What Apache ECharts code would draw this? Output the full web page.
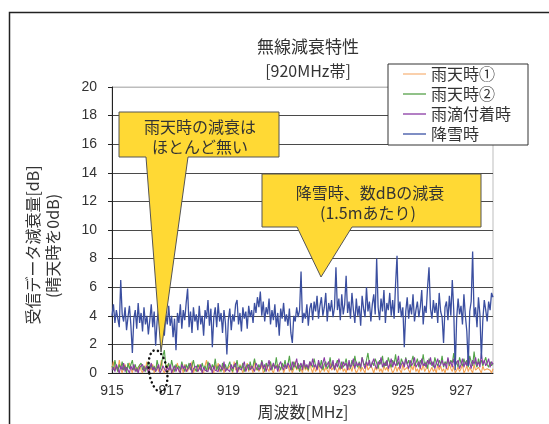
<!DOCTYPE html>
<html><head><meta charset="utf-8">
<script src="https://cdn.jsdelivr.net/npm/echarts@6/dist/echarts.min.js"></script>
<style>html,body{margin:0;padding:0;background:#fff}#c{width:549px;height:424px}</style>
</head><body><div id="c"></div>
<script>
const seriesNames = ['雨天時①','雨天時②','雨滴付着時','降雪時'];
const freqStart = 915, freqStep = 0.05, nPoints = 263;
const freqs = Array.from({length: nPoints}, (_, i) => +(freqStart + i * freqStep).toFixed(2));

const rain1 = [
0.3,0.8,0.2,0.5,0.1,0.9,0.3,0.0,0.4,0.6,0.2,0.1,0.7,0.3,0.0,0.5,0.2,0.4,0.1,0.6,
0.2,0.0,0.5,0.3,0.8,0.1,0.4,0.2,0.6,0.0,0.3,0.5,0.1,0.4,0.9,0.2,0.0,0.3,0.6,0.1,
0.4,0.2,0.0,0.5,0.3,0.7,0.1,0.2,0.4,0.0,0.6,0.3,0.1,0.5,0.2,0.8,0.0,0.3,0.4,0.1,
0.6,0.2,0.3,0.0,0.5,0.9,0.2,0.1,0.4,0.3,0.0,0.6,0.2,0.7,0.1,0.3,0.5,0.0,0.4,0.2,
0.1,0.5,0.3,0.0,0.8,0.2,0.4,0.1,0.6,0.3,0.0,0.4,0.2,0.7,0.1,0.5,0.3,0.0,0.9,0.2,
0.4,0.1,0.3,0.6,0.0,0.2,0.5,0.3,0.1,0.7,0.2,0.0,0.4,0.3,0.6,0.1,0.2,0.5,0.0,0.3,
0.2,0.6,0.1,0.4,0.0,0.3,0.8,0.2,0.5,0.1,0.3,0.0,0.6,0.2,0.4,0.1,0.7,0.3,0.0,0.5,
0.1,0.3,0.5,0.0,0.2,0.6,0.1,0.4,0.3,0.0,0.7,0.2,0.1,0.5,0.3,0.0,0.4,0.2,0.6,0.1,
0.3,0.0,0.5,0.2,0.4,0.1,0.6,0.3,0.0,0.2,0.5,0.1,0.4,0.3,0.0,0.7,0.2,0.1,0.5,0.3,
0.0,0.4,0.2,0.6,0.1,0.3,0.0,0.5,0.2,0.4,0.1,0.7,0.3,0.0,0.2,0.5,0.1,0.4,0.3,0.0,
0.6,0.2,0.1,0.4,0.3,0.0,0.5,0.2,0.7,0.1,0.3,0.0,0.4,0.2,0.6,0.1,0.3,0.5,0.0,0.2,
0.4,0.1,0.3,0.0,0.6,0.2,0.5,0.1,0.3,0.0,0.4,0.2,0.7,0.3,0.1,0.5,0.0,0.2,0.4,0.1,
0.3,0.6,0.0,0.2,0.5,0.1,0.4,0.3,0.0,0.6,0.2,0.1,0.4,0.3,0.0,0.5,0.2,0.1,0.3,0.4,
0.2,0.0,0.3];

const rain2 = [
0.5,0.2,0.9,0.4,0.1,0.6,0.3,0.8,0.2,0.5,0.0,0.7,0.3,0.4,0.9,0.2,0.6,0.1,0.4,0.3,
0.7,0.2,0.5,0.1,0.4,0.8,0.3,0.6,0.2,0.5,0.1,0.9,0.4,0.2,0.6,1.2,1.6,0.5,0.3,0.7,
0.2,0.9,0.4,0.1,0.6,0.3,0.5,0.2,0.8,0.4,0.1,0.6,0.3,0.7,0.2,0.5,0.9,0.3,0.1,0.6,
0.4,0.2,0.7,0.3,0.5,0.1,0.8,0.4,0.2,0.6,0.3,1.0,0.2,0.5,0.4,0.1,0.7,0.3,0.6,0.2,
0.5,0.8,0.3,0.1,0.6,0.4,0.9,0.2,0.5,0.3,0.7,0.1,0.4,0.6,0.2,0.8,0.3,0.5,1.0,0.4,
0.2,0.6,0.3,0.9,0.5,0.1,0.7,0.4,0.3,0.8,0.2,0.6,0.4,1.1,0.3,0.5,0.2,0.7,0.4,0.9,
0.3,0.6,1.2,0.4,0.2,0.8,0.5,0.3,0.7,0.1,0.6,0.4,0.9,0.3,0.5,0.2,0.8,0.6,0.4,1.0,
0.5,0.3,0.7,0.4,0.9,0.2,0.6,0.8,0.3,0.5,1.1,0.4,0.7,0.2,0.6,0.9,0.5,0.3,0.8,0.4,
0.6,1.0,0.4,0.7,0.3,0.9,0.5,1.2,0.6,0.4,0.8,0.3,1.1,0.7,0.5,0.9,1.4,0.6,0.4,0.8,
0.5,1.0,0.7,0.3,0.9,0.6,1.2,0.4,0.8,0.5,1.1,0.7,0.4,0.9,0.6,1.3,0.5,0.8,0.4,1.0,
0.7,0.5,1.1,0.6,0.9,0.4,0.8,1.2,0.5,0.7,1.0,0.4,0.9,0.6,1.3,0.5,0.8,0.3,1.0,0.6,
0.8,0.4,1.1,0.7,0.5,0.9,0.6,1.2,0.4,0.8,0.6,1.0,0.5,0.9,0.7,1.4,0.6,0.8,0.4,1.1,
0.7,0.5,1.0,0.6,0.9,0.4,1.2,0.8,0.5,1.5,0.7,0.4,1.0,0.6,0.9,0.5,0.8,1.1,0.6,0.4,
0.8,0.5,0.7];

const dropWet = [
0.2,0.4,0.1,0.6,0.3,0.0,0.5,0.2,0.7,0.1,0.4,0.3,0.0,0.5,0.2,0.6,0.1,0.3,0.0,0.4,
0.3,0.6,0.1,0.2,0.5,0.0,0.3,0.7,0.2,0.4,0.1,0.3,0.6,0.0,0.2,0.5,0.3,0.1,0.4,0.2,
0.6,0.0,0.3,0.5,0.1,0.4,0.2,0.0,0.6,0.3,0.5,0.1,0.2,0.4,0.7,0.0,0.3,0.2,0.5,0.1,
0.3,0.6,0.0,0.4,0.2,0.3,0.1,0.7,0.4,0.0,0.5,0.2,0.3,0.1,0.6,0.4,0.2,0.8,0.1,0.3,
0.4,0.1,0.6,0.3,0.2,0.7,0.0,0.4,0.5,0.2,0.3,0.8,0.1,0.4,0.6,0.2,0.5,0.3,0.1,0.7,
0.5,0.2,0.4,0.8,0.3,0.6,0.1,0.5,0.9,0.2,0.4,0.7,0.3,0.5,0.1,0.6,0.8,0.4,0.2,0.6,
0.3,0.7,0.5,0.2,0.8,0.4,0.6,1.0,0.3,0.5,0.7,0.2,0.9,0.4,0.6,0.3,0.8,0.5,1.0,0.4,
0.6,0.2,0.9,0.5,0.3,0.7,1.1,0.4,0.6,0.8,0.3,0.5,0.9,0.2,0.7,0.4,1.0,0.6,0.3,0.8,
0.5,0.7,0.2,0.9,0.4,0.6,1.0,0.3,0.8,0.5,0.7,0.4,1.1,0.6,0.3,0.8,0.5,0.9,0.4,0.7,
1.0,0.5,0.3,0.8,0.6,1.1,0.4,0.7,0.5,0.9,0.3,0.6,1.0,0.4,0.8,0.5,0.7,1.2,0.3,0.6,
0.8,0.4,1.0,0.6,0.3,0.9,0.5,0.7,1.1,0.4,0.6,0.8,0.3,1.0,0.5,0.7,0.4,0.9,0.6,1.1,
0.5,0.8,0.3,0.7,1.0,0.4,0.6,0.9,0.5,0.7,0.3,1.1,0.6,0.8,0.4,1.0,0.5,0.7,0.9,0.3,
0.6,1.0,0.4,0.8,0.5,1.2,0.7,0.3,0.9,0.6,1.1,0.5,0.8,0.4,1.4,0.6,0.9,0.5,0.7,1.0,
0.4,0.8,0.6];

const snow = [
4.0,4.8,3.5,4.4,3.8,3.2,6.5,4.1,3.6,4.6,3.0,3.9,4.7,3.3,1.4,3.8,4.4,3.1,4.9,3.5,
4.2,2.9,4.6,3.4,4.0,2.7,3.7,4.8,3.2,4.3,1.9,3.6,4.5,3.0,3.9,4.6,2.6,4.1,3.4,4.7,
3.3,4.0,2.5,3.8,1.6,4.2,3.5,4.8,3.1,4.4,3.7,4.9,5.9,3.2,4.3,2.8,4.6,3.6,4.1,3.0,
4.7,3.4,4.0,2.6,4.4,3.8,5.1,3.3,4.5,1.8,3.9,4.6,3.2,4.9,3.6,4.2,2.8,4.4,3.5,1.3,
3.7,4.5,3.0,4.1,3.6,4.8,5.1,3.4,4.2,2.9,4.6,3.8,4.3,3.1,4.7,3.9,4.4,3.5,4.9,4.2,
5.3,4.6,5.7,4.0,5.0,3.6,4.6,4.1,5.2,3.4,4.4,3.7,4.8,3.2,4.2,2.6,4.5,3.8,4.9,3.6,
4.1,3.3,4.5,2.8,2.1,4.0,3.6,4.6,3.9,4.4,7.1,3.5,4.2,3.8,4.8,3.3,4.5,4.9,3.7,5.0,
4.3,5.4,3.8,4.7,5.3,4.0,4.6,5.6,3.6,4.9,4.3,5.1,3.9,4.6,7.4,4.4,5.2,3.7,5.5,4.1,
4.8,6.8,4.2,5.0,3.8,5.6,4.4,3.5,5.2,4.0,4.7,3.3,5.4,4.5,3.9,6.0,4.3,5.0,3.6,4.8,
5.5,4.1,8.0,4.6,3.7,5.2,4.3,5.8,3.5,4.9,4.4,5.6,4.0,5.1,3.8,6.2,8.2,4.2,5.0,3.9,
4.6,1.8,4.3,5.3,3.8,4.8,4.1,5.5,3.6,4.4,5.0,3.9,4.6,5.8,3.4,4.7,4.2,6.0,7.4,4.5,
3.8,5.1,4.2,4.9,3.5,5.6,4.3,3.9,2.1,4.6,5.0,3.7,5.4,4.0,6.5,4.4,0.2,3.8,5.2,4.1,
4.7,3.4,5.5,4.0,2.9,0.5,4.3,5.0,8.5,3.9,4.6,3.2,5.3,4.1,1.0,3.7,5.1,4.4,3.6,5.0,
4.4,5.6,5.3];

const seriesColors = ['#F7A453','#52A348','#8A3BA3','#3B4FA0'];
const legendColors = ['#F9C090','#6DAE62','#9A55B0','#5568B0'];
const yTicks = [0,2,4,6,8,10,12,14,16,18,20];

const chart = echarts.init(document.getElementById('c'), null, {renderer: 'canvas'});
const allData = [rain1, rain2, dropWet, snow];
const numFont = 'Liberation Sans, Arial, sans-serif';
const jpFont = 'Noto Sans CJK JP, sans-serif';

const splitColors = yTicks.map((v, i) => i === yTicks.length - 1 ? '#BDBDBD' : '#4A4A4A');

chart.setOption({
  animation: false,
  backgroundColor: '#fff',
  grid: {left: 112, top: 87, right: 56, bottom: 51, show: true, borderColor: '#BDBDBD', borderWidth: 1, containLabel: false},
  xAxis: {
    type: 'value', min: 915, max: 928.1, interval: 2,
    axisLine: {show: true, lineStyle: {color: '#222', width: 1}},
    axisTick: {show: false},
    splitLine: {show: false},
    axisLabel: {color: '#333', fontFamily: numFont, fontSize: 14, margin: 11, showMaxLabel: false,
      formatter: v => String(Math.round(v))}
  },
  yAxis: {
    type: 'value', min: 0, max: 20, interval: 2,
    axisLine: {show: true, lineStyle: {color: '#222', width: 1}},
    axisTick: {show: true, length: 4, inside: false, lineStyle: {color: '#222'}},
    splitLine: {show: true, lineStyle: {color: splitColors, width: 1}},
    axisLabel: {color: '#333', fontFamily: numFont, fontSize: 14, margin: 15}
  },
  legend: {
    orient: 'vertical', left: 388, top: 64,
    padding: [2, 17, 3, 15],
    backgroundColor: '#fff', borderColor: '#333', borderWidth: 1,
    itemGap: 4, itemWidth: 23, itemHeight: 1.5, icon: 'rect',
    textStyle: {fontFamily: jpFont, fontSize: 16, color: '#333', lineHeight: 16},
    data: seriesNames.map((n, i) => ({name: n, itemStyle: {color: legendColors[i]}}))
  },
  series: seriesNames.map((n, i) => ({
    name: n, type: 'line', showSymbol: false, symbol: 'none',
    lineStyle: {color: seriesColors[i], width: i === 3 ? 1.3 : 1.1},
    itemStyle: {color: seriesColors[i]},
    data: allData[i].map((v, k) => [freqs[k], v]),
    z: 2 + i
  })),
  graphic: [
    {type: 'rect', shape: {x: 9.5, y: 12.5, width: 700, height: 600}, style: {fill: 'none', stroke: '#222', lineWidth: 1.5}, z: 1, silent: true},
    {type: 'text', style: {text: '無線減衰特性', x: 308, y: 47, textAlign: 'center', textVerticalAlign: 'middle', fontFamily: jpFont, fontSize: 17, fill: '#333'}},
    {type: 'text', style: {text: '[920MHz帯]', x: 308, y: 71, textAlign: 'center', textVerticalAlign: 'middle', fontFamily: jpFont, fontSize: 16, fill: '#333'}},
    {type: 'text', rotation: Math.PI / 2, x: 33, y: 245, style: {text: '受信データ減衰量[dB]', textAlign: 'center', textVerticalAlign: 'middle', fontFamily: jpFont, fontSize: 16, fill: '#333'}},
    {type: 'text', rotation: Math.PI / 2, x: 53, y: 246, style: {text: '(晴天時を0dB)', textAlign: 'center', textVerticalAlign: 'middle', fontFamily: jpFont, fontSize: 16, fill: '#333'}},
    {type: 'text', style: {text: '周波数[MHz]', x: 303, y: 412, textAlign: 'center', textVerticalAlign: 'middle', fontFamily: jpFont, fontSize: 16, fill: '#333'}},
    {type: 'polygon', z: 50, shape: {points: [[119,112],[279,112],[279,157],[188,157],[161,352],[146,157],[119,157]]},
      style: {fill: '#FFD934', stroke: '#555', lineWidth: 1}},
    {type: 'text', z: 51, style: {text: '雨天時の減衰は', x: 200, y: 127, textAlign: 'center', textVerticalAlign: 'middle', fontFamily: jpFont, fontSize: 16, fill: '#333'}},
    {type: 'text', z: 51, style: {text: 'ほとんど無い', x: 200, y: 147, textAlign: 'center', textVerticalAlign: 'middle', fontFamily: jpFont, fontSize: 16, fill: '#333'}},
    {type: 'polygon', z: 50, shape: {points: [[262,174],[481,174],[481,227],[352,227],[321,277],[297,227],[262,227]]},
      style: {fill: '#FFD934', stroke: '#555', lineWidth: 1}},
    {type: 'text', z: 51, style: {text: '降雪時、数dBの減衰', x: 370, y: 193, textAlign: 'center', textVerticalAlign: 'middle', fontFamily: jpFont, fontSize: 16, fill: '#333'}},
    {type: 'text', z: 51, style: {text: '(1.5mあたり)', x: 368, y: 213, textAlign: 'center', textVerticalAlign: 'middle', fontFamily: jpFont, fontSize: 16, fill: '#333'}},
    {type: 'ellipse', z: 60, x: 158, y: 371, rotation: 0.15, shape: {cx: 0, cy: 0, rx: 9, ry: 21},
      style: {fill: 'none', stroke: '#111', lineWidth: 2.5, lineDash: [0.1, 4.5], lineCap: 'round'}}
  ]
});
</script></body></html>
